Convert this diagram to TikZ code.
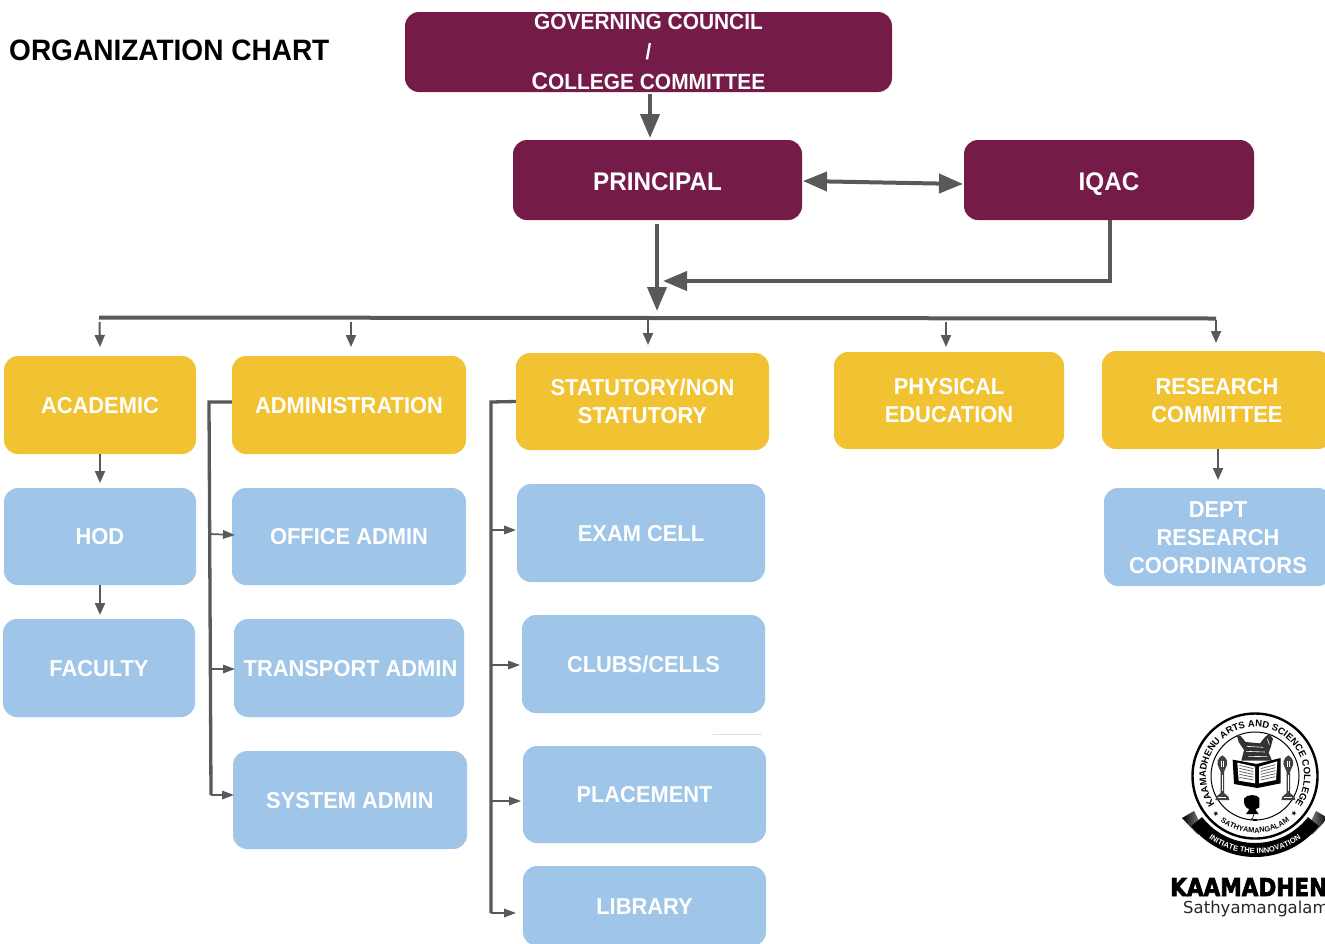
\documentclass[tikz,border=0pt]{standalone}
\usepackage{fontspec}
\setmainfont[FakeStretch=0.95]{Liberation Sans}
\newfontfamily\logosans{DejaVu Sans}
\newfontfamily\logoheavy[FakeBold=3]{DejaVu Sans Bold}
\newfontfamily\logobold{Liberation Sans Bold}
\usetikzlibrary{arrows.meta,decorations.text,calc}
\definecolor{wine}{HTML}{741B47}
\definecolor{gold}{HTML}{F1C232}
\definecolor{sky}{HTML}{9FC5E8}
\definecolor{linegrey}{HTML}{595959}
\tikzset{
  x=1pt,y=-1pt,
  boxbase/.style={rounded corners=14pt,text=white,align=center,inner sep=0pt,
    font=\fontsize{23}{28}\selectfont\bfseries},
  winebox/.style={boxbase,fill=wine,font=\fontsize{25.5}{30}\selectfont\bfseries},
  goldbox/.style={boxbase,fill=gold},
  skybox/.style={boxbase,fill=sky},
  bigline/.style={draw=linegrey,line width=4pt,-{Triangle[length=24pt,width=19pt]}},
  bigboth/.style={draw=linegrey,line width=4pt,{Triangle[length=24pt,width=19pt]}-{Triangle[length=24pt,width=19pt]}},
  busline/.style={draw=linegrey,line width=4pt},
  stub/.style={draw=linegrey,line width=2pt,-{Triangle[length=12pt,width=10pt]}},
  railstub/.style={draw=linegrey,line width=1.7pt,-{Triangle[length=12pt,width=8.5pt]}},
  rail/.style={draw=linegrey,line width=3.3pt},
  crestring/.style={draw=black,fill=white},
  crestdark/.style={fill=black},
  crestpage/.style={fill=white},
  crestmark/.style={draw=black!65,line width=.7pt},
}
\newsavebox{\boxtext}
\newcommand{\boxlift}{-4.5pt}
\newcommand{\placebox}[7]{% style,name,x1,y1,x2,y2,text
  \node[#1,minimum width=#5pt-#3pt,minimum height=#6pt-#4pt] (#2) at ({(#3+#5)/2},{(#4+#6)/2})
    {\sbox{\boxtext}{\begin{tabular}{@{}c@{}}#7\end{tabular}}\raisebox{\boxlift}[\ht\boxtext][\dp\boxtext]{\usebox{\boxtext}}};}
\newcommand{\lamp}[1]{%
  \begin{scope}[shift={(#1,0)}]
    \fill[black!75] (0,142) .. controls (14,150) and (20,165) .. (10,180) -- (5,192) -- (5,255) -- (18,266)
      -- (21,276) -- (-21,276) -- (-18,266) -- (-5,255) -- (-5,192) -- (-10,180) .. controls (-20,165) and (-14,150) .. (0,142) -- cycle;
    \draw[white,line width=.5pt] (-3,158) -- (-3,178) (3,158) -- (3,178) (0,200) -- (0,250) (-12,268) -- (12,268);
  \end{scope}}
\begin{document}
\begin{tikzpicture}
\useasboundingbox (0,0) rectangle (1325,943);
\fill[white] (0,0) rectangle (1325,943);

\node[anchor=base west,inner sep=0pt,text=black,font=\fontsize{29.5}{34}\selectfont\bfseries] (title) at (9,60.5) {ORGANIZATION CHART};

% top boxes
\node[winebox,minimum width=487pt,minimum height=80pt] (gov) at (648.5,52) {};
\node[text=white,align=center,inner sep=0pt,font=\fontsize{22}{30}\selectfont\bfseries] (govtext) at (648.5,51.5)
  {GOVERNING COUNCIL\\/\\{\fontsize{24}{30}\selectfont C}OLLEGE COMMITTEE};
\placebox{winebox}{prin}{513}{140}{802}{220}{PRINCIPAL}
\placebox{winebox}{iqac}{964}{140}{1254}{220}{IQAC}
\renewcommand{\boxlift}{-2.5pt}

% category boxes
\placebox{goldbox}{acad}{4}{356}{196}{454}{ACADEMIC}
\placebox{goldbox}{admin}{232}{356}{466}{454}{ADMINISTRATION}
\placebox{goldbox}{stat}{516}{353}{769}{450}{STATUTORY/NON\\STATUTORY}
\placebox{goldbox}{phys}{834}{352}{1064}{449}{PHYSICAL\\EDUCATION}
\placebox{goldbox}{res}{1102}{351}{1332}{449}{RESEARCH\\COMMITTEE}

% detail boxes
\placebox{skybox}{hod}{4}{488}{196}{585}{HOD}
\placebox{skybox}{fac}{3}{619}{195}{717}{FACULTY}
\placebox{skybox}{off}{232}{488}{466}{585}{OFFICE ADMIN}
\placebox{skybox}{trans}{234}{619}{464}{717}{\hspace*{3pt}TRANSPORT ADMIN}
\placebox{skybox}{sys}{233}{751}{467}{849}{SYSTEM ADMIN}
\placebox{skybox}{exam}{517}{484}{765}{582}{EXAM CELL}
\placebox{skybox}{club}{522}{615}{765}{713}{CLUBS/CELLS}
\placebox{skybox}{place}{523}{746}{766}{843}{PLACEMENT}
\placebox{skybox}{lib}{523}{866}{766}{946}{LIBRARY}
\placebox{skybox}{dept}{1104}{488}{1332}{586}{DEPT\\RESEARCH\\COORDINATORS}

\draw[draw=black!12,line width=.6pt] (713,734) -- (762,734);

% top connectors
\coordinate (govfoot) at (650,94);
\coordinate (prinhead) at (650,138);
\draw[bigline] (govfoot) -- (prinhead);
\coordinate (prinfoot) at (657,224);
\coordinate (junction) at (657,311);
\draw[bigline] (prinfoot) -- (junction);
\coordinate (leftplug) at (803,181);
\coordinate (rightplug) at (963,184);
\draw[bigboth] (leftplug) -- (rightplug);
\coordinate (iqacfoot) at (1110,220);
\coordinate (iqacturn) at (1110,281);
\coordinate (iqachead) at (663,281);
\draw[bigline] (iqacfoot) -- (iqacturn) -- (iqachead);

% bus
\coordinate (busL) at (99,317.5);
\coordinate (busR) at (1216,318.5);
\draw[busline] (busL) -- (busR);
\draw[stub] (99.5,322) -- (100,347);
\draw[stub] (351,322) -- (351,347);
\draw[stub] (648,320) -- (648,345);
\draw[stub] (946,322) -- (946,347);
\draw[stub] (1216,320) -- (1216,343);

% vertical stubs
\draw[stub] (100,454) -- (100,483);
\draw[stub] (100,585) -- (100,615);
\draw[stub] (1218,449) -- (1218,480);

% administration rail
\coordinate (railA1) at (209,402);
\coordinate (railA2) at (211,795);
\draw[rail] (admin.west |- railA1) -- (railA1) -- (railA2);
\draw[railstub] (210,534) -- (235,535);
\draw[railstub] (210,669) -- (235,669);
\draw[railstub] (railA2) -- (234,795);

% statutory rail
\coordinate (railB1) at (491,402);
\coordinate (railB2) at (491,913);
\draw[rail] (stat.west) -- (railB1) -- (railB2);
\draw[railstub] (491,530) -- (516,530);
\draw[railstub] (491,665) -- (520,665);
\draw[railstub] (491,801) -- (521,801);
\draw[railstub] (railB2) -- (516,913);

% crest: polar part, centre of the seal, y upwards
\begin{scope}[shift={(1255,776)},x=1pt,y=1pt]
  \shade[left color=black,right color=black!30] (-73,-42) -- (-61,-35) -- (-48,-61) -- (-58,-58) -- cycle;
  \shade[left color=black!30,right color=black] (48,-61) -- (61,-35) -- (73,-42) -- (58,-58) -- cycle;
  \draw[crestring,line width=2.4pt] (0,0) circle[radius=62.5];
  \draw[black,line width=1pt] (0,0) circle[radius=44];
  \draw[black,line width=14pt] (218:74) arc[start angle=218,end angle=322,radius=74];
  \path[decorate,decoration={text along path,text align=center,
    text={|\fontsize{9.5}{11}\logobold|KAAMADHENU ARTS AND SCIENCE COLLEGE}}]
    (214:49) arc[start angle=214,end angle=-34,radius=49];
  \path[decorate,decoration={text along path,text align=center,
    text={|\fontsize{7.4}{8}\logobold|SATHYAMANGALAM}}]
    (232:57) arc[start angle=232,end angle=308,radius=57];
  \path[decorate,decoration={text along path,text align=center,
    text={|\fontsize{7.6}{8}\logobold\color{white}|INITIATE  THE  INNOVATION}}]
    (220:77.5) arc[start angle=220,end angle=320,radius=77.5];
  \node[inner sep=0pt,rotate=-44,text=black,font=\logosans\fontsize{7}{8}\selectfont] (starL) at (224:54) {★};
  \node[inner sep=0pt,rotate=44,text=black,font=\logosans\fontsize{7}{8}\selectfont] (starR) at (316:54) {★};
\end{scope}
% crest: emblem part, drawn in a 3x grid
\begin{scope}[shift={(1180,708)},x=0.3333pt,y=-0.3333pt]
  % calf
  \fill[black!80] (170,80) -- (182,84) -- (197,102) -- (240,106) -- (256,86) -- (268,78) -- (279,92) -- (272,118)
    -- (266,134) -- (276,158) -- (184,158) -- (192,126) -- (176,102) -- cycle;
  \draw[white,line width=.6pt] (200,115) -- (250,118) (198,130) -- (255,132) (205,145) -- (262,146) (262,92) -- (268,110);
  % book
  \fill[crestdark] (158,155) -- (230,168) -- (302,150) -- (302,226) -- (232,240) -- (162,228) -- cycle;
  \fill[crestpage] (172,164) -- (225,176) -- (225,226) -- (176,218) -- cycle;
  \fill[crestpage] (237,176) -- (292,160) -- (288,216) -- (237,226) -- cycle;
  \foreach \k in {0,1,2,3,4}{
    \draw[crestmark] (178,{172+\k*9}) -- (220,{182+\k*8.5});
    \draw[crestmark] (242,{182+\k*8.5}) -- (286,{170+\k*9});
  }
  % lamps
  \lamp{127}
  \lamp{325}
  % computer
  \fill[crestdark] (192,272) .. controls (200,258) and (232,258) .. (238,270) -- (238,298) -- (226,304)
    -- (236,318) -- (198,318) -- (208,304) .. controls (196,300) and (190,288) .. (192,272) -- cycle;
  \draw[black,line width=.6pt] (222,318) .. controls (222,328) and (216,332) .. (212,336);
  \fill[crestdark] (225,336) ellipse[x radius=8,y radius=3];
\end{scope}
\node[anchor=base west,inner sep=0pt,text=black,font=\logoheavy\fontsize{22}{28}\selectfont] (wordmark) at (1170,896) {\scalebox{0.98}[1.12]{KAAMADHEN}};
\node[anchor=base west,inner sep=0pt,text=black!85,font=\logosans\fontsize{16.5}{20}\selectfont] (place) at (1183,913) {Sathyamangalam};
\end{tikzpicture}
\end{document}
